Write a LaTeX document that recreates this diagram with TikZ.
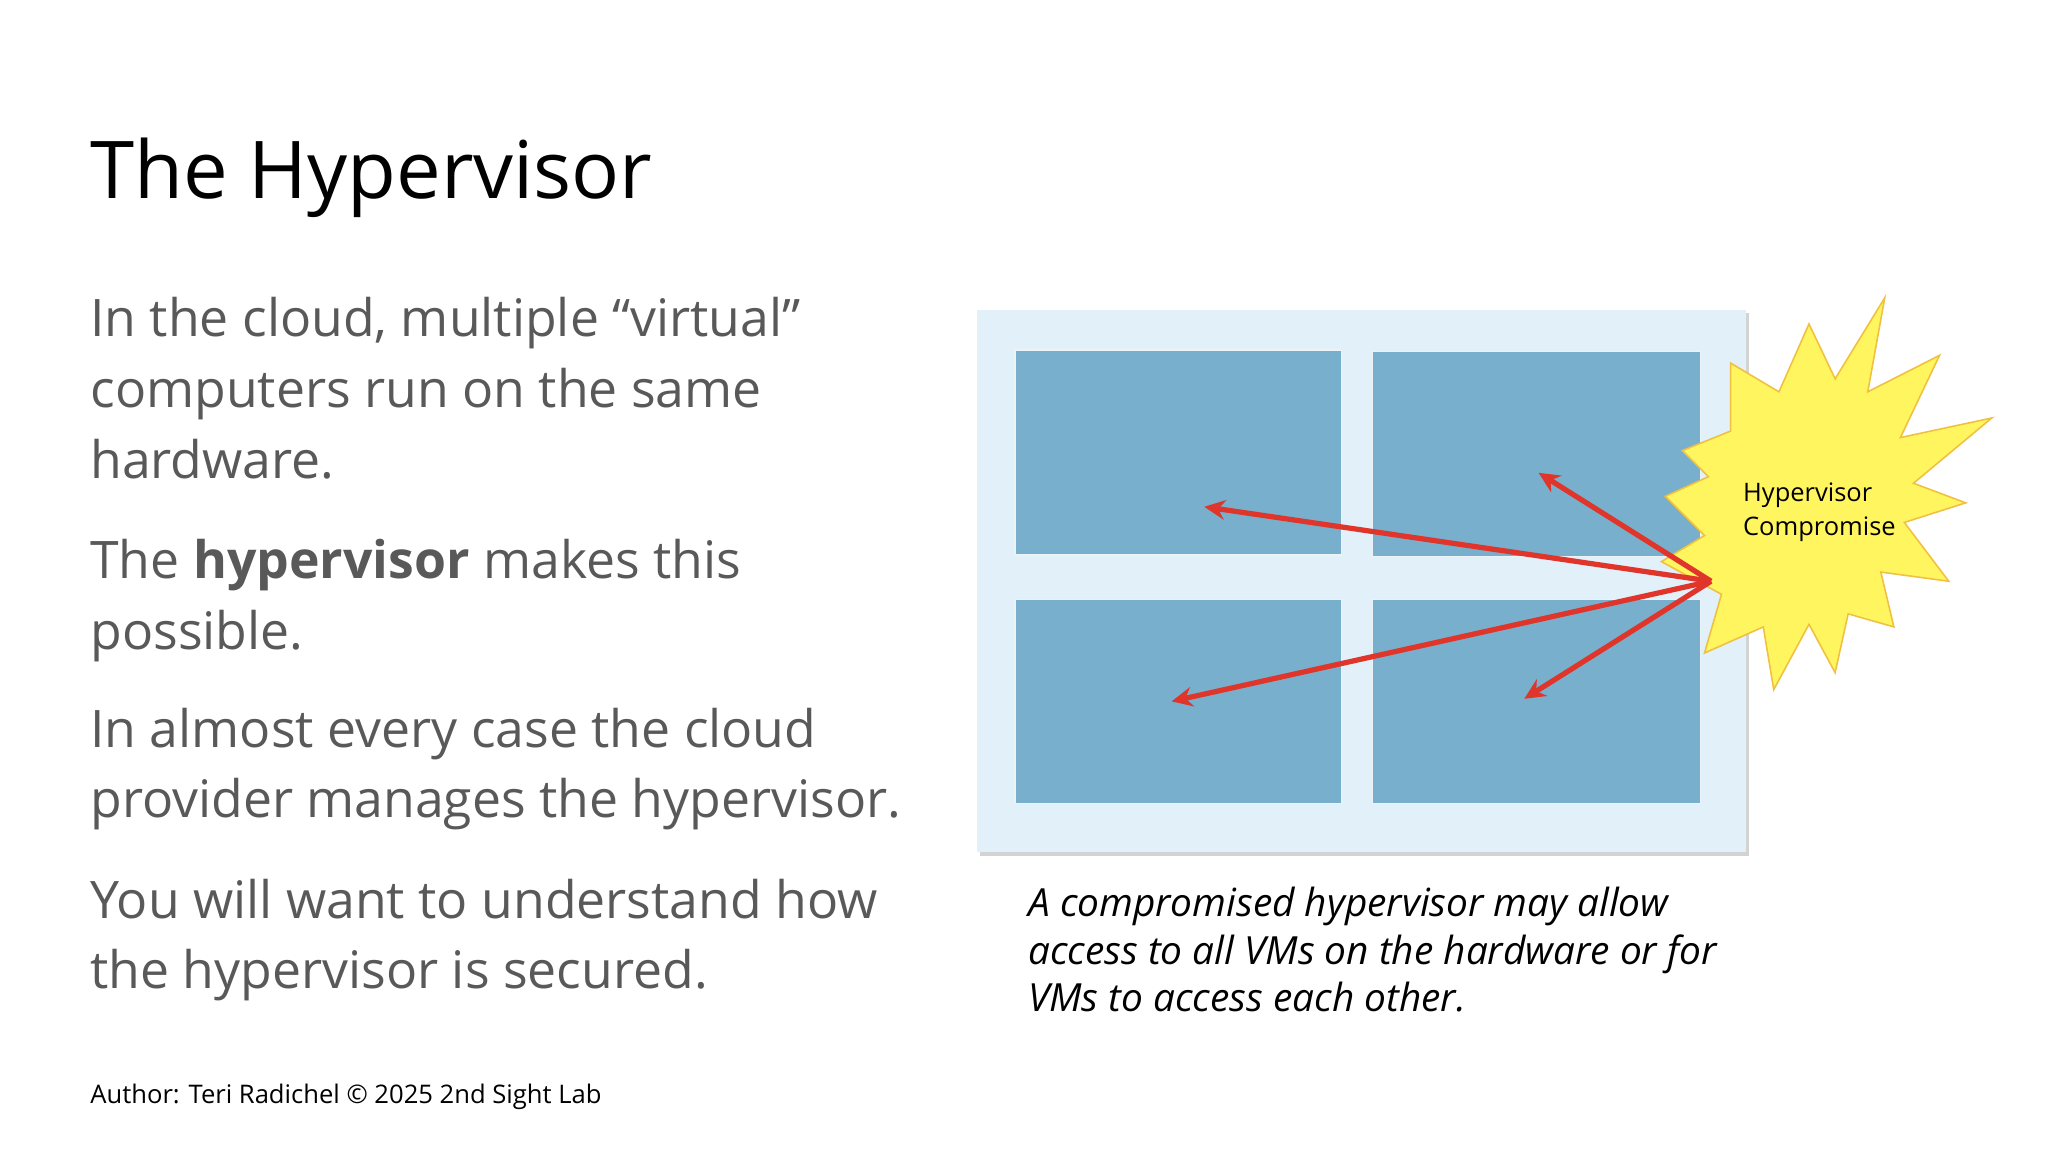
\documentclass[tikz,border=0pt]{standalone}
\usepackage{fontspec}
\setmainfont{Open Sans}
\usetikzlibrary{arrows.meta,shadows}
\definecolor{body}{HTML}{595959}
\definecolor{panel}{HTML}{E2F0FA}
\definecolor{vm}{HTML}{78AFCC}
\definecolor{star}{HTML}{FFF55F}
\definecolor{starb}{HTML}{F0C040}
\definecolor{arr}{HTML}{E0352B}
\tikzset{
 bodytxt/.style={anchor=base west,text=body,font=\fontsize{39.6}{54}\selectfont,inner sep=0},
 vmbox/.style={fill=vm,draw=white!85!vm,line width=1pt},
 redarrow/.style={draw=arr,line width=4pt,-{Stealth[length=16pt,width=15pt]}},
}
\begin{document}
\begin{tikzpicture}[x=1pt,y=-1pt]
\useasboundingbox (0,0) rectangle (1568,882);
\node[anchor=base west,inner sep=0,font=\fontsize{61}{62}\selectfont] (title) at (69,152) {The Hypervisor};
\node[bodytxt] (l1) at (69,258) {In the cloud, multiple “virtual”};
\node[bodytxt] (l2) at (69,312) {computers run on the same};
\node[bodytxt] (l3) at (69,366) {hardware.};
\node[bodytxt] (l4) at (69,443) {The \textbf{hypervisor} makes this};
\node[bodytxt] (l5) at (69,497) {possible.};
\node[bodytxt] (l6) at (69,572) {In almost every case the cloud};
\node[bodytxt] (l7) at (69,626) {provider manages the hypervisor.};
\node[bodytxt] (l8) at (69,703) {You will want to understand how};
\node[bodytxt] (l9) at (69,757) {the hypervisor is secured.};
\node[anchor=base west,inner sep=0,font=\fontsize{19.6}{24}\selectfont] (foot) at (69,845) {Author: Teri Radichel © 2025 2nd Sight Lab};
% panel
\fill[panel,drop shadow={shadow xshift=2pt,shadow yshift=-3pt,opacity=0.35}] (748,237) rectangle (1337,652);
\fill[vmbox] (777,268) rectangle (1027,425);
\fill[vmbox] (1051,269) rectangle (1302,426);
\fill[vmbox] (777,459) rectangle (1027,615);
\fill[vmbox] (1051,459) rectangle (1302,615);
% star
\draw[fill=star,draw=starb,line width=1.2pt]
 (1443,228)--(1430,300)--(1485,272)--(1455,335)--(1525,320)--(1465,370)--(1505,385)--(1458,400)--(1492,445)--(1440,438)--(1450,480)--(1415,470)--(1405,515)--(1385,478)--(1358,528)--(1350,480)--(1305,500)--(1318,455)--(1272,430)--(1305,410)--(1275,380)--(1308,365)--(1288,345)--(1325,330)--(1325,278)--(1362,300)--(1385,248)--(1405,290)--cycle;
\node[font=\fontsize{19.5}{26}\selectfont,align=left] (hc) at (1393,392) {Hypervisor\\Compromise};
\coordinate (src) at (1310,445);
\coordinate (t1) at (922,388);
\coordinate (t2) at (1178,362);
\coordinate (t3) at (897,537);
\coordinate (t4) at (1167,535);
\foreach \t in {t1,t2,t3,t4} \draw[redarrow] (src) -- (\t);
\node[anchor=north west,inner sep=0,align=left,font=\itshape\fontsize{29.7}{36.5}\selectfont] (cap) at (787,679) {A compromised hypervisor may allow\\access to all VMs on the hardware or for\\VMs to access each other.};
\end{tikzpicture}
\end{document}
